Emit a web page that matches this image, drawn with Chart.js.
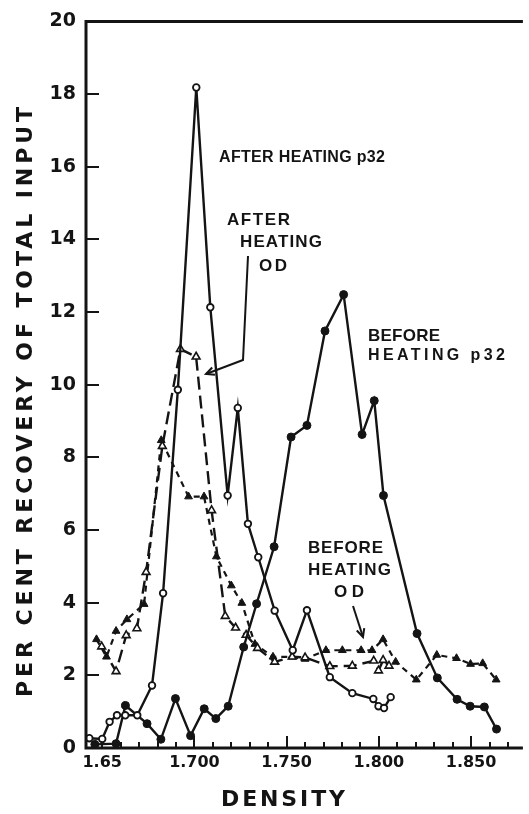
<!DOCTYPE html>
<html>
<head>
<meta charset="utf-8">
<script src="https://cdn.jsdelivr.net/npm/chart.js@4/dist/chart.umd.min.js"></script>
<style>
  html, body { margin: 0; padding: 0; background: #fff; }
  #chart { display: block; }
</style>
</head>
<body>
<canvas id="chart" width="529" height="814"></canvas>
<script>
// Values (density, per cent recovery).
var afterP32Density = [1.643, 1.650, 1.654, 1.658, 1.6625, 1.669, 1.677, 1.683, 1.691, 1.701, 1.7086, 1.718, 1.7235, 1.729, 1.7346, 1.7435, 1.7533, 1.761, 1.7734, 1.7856, 1.797, 1.7998, 1.8028, 1.8064];
var afterP32Values = [0.27, 0.25, 0.72, 0.9, 0.9, 0.9, 1.72, 4.26, 9.86, 18.18, 12.13, 6.95, 9.36, 6.17, 5.25, 3.78, 2.69, 3.79, 1.95, 1.51, 1.35, 1.15, 1.10, 1.40];

var beforeP32Density = [1.646, 1.6575, 1.6626, 1.6743, 1.6818, 1.6897, 1.6979, 1.7053, 1.7116, 1.7183, 1.7267, 1.7337, 1.7432, 1.7524, 1.761, 1.7708, 1.7809, 1.7909, 1.7975, 1.8025, 1.8207, 1.8317, 1.8424, 1.8495, 1.8572, 1.8638];
var beforeP32Values = [0.1, 0.12, 1.17, 0.67, 0.24, 1.36, 0.34, 1.08, 0.81, 1.15, 2.78, 3.97, 5.54, 8.56, 8.88, 11.48, 12.48, 8.63, 9.56, 6.95, 3.15, 1.93, 1.34, 1.15, 1.13, 0.52];

var afterODDensity = [1.6497, 1.6575, 1.663, 1.6688, 1.6738, 1.6826, 1.6924, 1.7009, 1.7093, 1.7167, 1.7223, 1.728, 1.7342, 1.7435, 1.753, 1.76, 1.7734, 1.7856, 1.7972, 1.7998, 1.8023, 1.8055];
var afterODValues = [2.79, 2.11, 3.10, 3.29, 4.84, 8.31, 10.98, 10.77, 6.54, 3.63, 3.31, 3.11, 2.75, 2.37, 2.51, 2.49, 2.25, 2.26, 2.40, 2.13, 2.42, 2.26];

var beforeODDensity = [1.6469, 1.6523, 1.6575, 1.6634, 1.6727, 1.682, 1.6968, 1.7052, 1.7119, 1.72, 1.7257, 1.7328, 1.7426, 1.753, 1.76, 1.7713, 1.7802, 1.7904, 1.7963, 1.8023, 1.8091, 1.8203, 1.8314, 1.8421, 1.8497, 1.8563, 1.8636];
var beforeODValues = [2.99, 2.51, 3.22, 3.54, 3.96, 8.47, 6.92, 6.92, 5.27, 4.47, 3.99, 2.86, 2.51, 2.51, 2.45, 2.69, 2.69, 2.69, 2.69, 2.99, 2.37, 1.88, 2.56, 2.47, 2.31, 2.33, 1.88];

var xTickValues = [1.65, 1.70, 1.75, 1.80, 1.85];
var xTickLabels = ['1.65', '1.700', '1.750', '1.800', '1.850'];
var xMinorTicks = [1.65, 1.66, 1.67, 1.68, 1.69, 1.70, 1.71, 1.72, 1.73, 1.74, 1.75, 1.76, 1.77, 1.78, 1.79, 1.80, 1.81, 1.82, 1.83, 1.84, 1.85, 1.86, 1.87];
var yTickValues = [0, 2, 4, 6, 8, 10, 12, 14, 16, 18, 20];

var INK = '#141414';
var FONT = '"DejaVu Sans", sans-serif';
var LABEL_FONT = '"Liberation Sans", Arial, sans-serif';

function points(xs, ys) {
  return xs.map(function (x, i) { return { x: x, y: ys[i] }; });
}

// Draw text spread to a given width by letter spacing.
function fitText(ctx, text, x, y, width, align) {
  ctx.letterSpacing = '0px';
  var w = ctx.measureText(text).width;
  var sp = (width - w) / Math.max(text.length - 1, 1);
  ctx.letterSpacing = sp + 'px';
  var start = align === 'center' ? x - width / 2 : x;
  ctx.textAlign = 'left';
  ctx.fillText(text, start, y);
  ctx.letterSpacing = '0px';
}

function arrowHead(ctx, x0, y0, x1, y1, size) {
  var a = Math.atan2(y1 - y0, x1 - x0);
  ctx.beginPath();
  ctx.moveTo(x1 - size * Math.cos(a - 0.45), y1 - size * Math.sin(a - 0.45));
  ctx.lineTo(x1, y1);
  ctx.lineTo(x1 - size * Math.cos(a + 0.45), y1 - size * Math.sin(a + 0.45));
  ctx.stroke();
}

var framePlugin = {
  id: 'frame',
  afterDraw: function (chart) {
    var ctx = chart.ctx;
    var area = chart.chartArea;
    var xs = chart.scales.x;
    var ys = chart.scales.y;

    ctx.save();
    ctx.strokeStyle = INK;
    ctx.fillStyle = INK;
    ctx.lineCap = 'butt';

    // Axes and top border.
    ctx.lineWidth = 3;
    ctx.beginPath();
    ctx.moveTo(area.right, area.top);
    ctx.lineTo(area.left, area.top);
    ctx.lineTo(area.left, area.bottom);
    ctx.lineTo(area.right, area.bottom);
    ctx.stroke();

    // Inward tick marks.
    ctx.lineWidth = 2;
    ctx.beginPath();
    yTickValues.forEach(function (v) {
      if (v === 0 || v === 20) return;
      var py = Math.round(ys.getPixelForValue(v));
      ctx.moveTo(area.left, py);
      ctx.lineTo(area.left + 13, py);
    });
    xMinorTicks.forEach(function (v) {
      var px = Math.round(xs.getPixelForValue(v));
      var major = Math.abs(Math.round(v * 100) % 5) === 0 && Math.round(v * 100) !== 165;
      ctx.moveTo(px, area.bottom);
      ctx.lineTo(px, area.bottom - (major ? 12 : 6));
    });
    ctx.stroke();

    // Axis titles.
    ctx.textBaseline = 'middle';
    ctx.font = 'bold 22px ' + FONT;
    fitText(ctx, 'DENSITY', 283, 800, 124, 'center');

    ctx.save();
    ctx.translate(26, 402);
    ctx.rotate(-Math.PI / 2);
    ctx.font = 'bold 22px ' + FONT;
    fitText(ctx, 'PER CENT RECOVERY OF TOTAL INPUT', 0, 0, 590, 'center');
    ctx.restore();

    // Curve labels.
    ctx.font = 'bold 16px ' + LABEL_FONT;
    fitText(ctx, 'AFTER HEATING p32', 219, 158, 166, 'left');
    ctx.font = 'bold 17px ' + LABEL_FONT;
    fitText(ctx, 'AFTER', 227, 220, 63, 'left');
    fitText(ctx, 'HEATING', 240, 242, 82, 'left');
    fitText(ctx, 'OD', 259, 266, 28, 'left');
    fitText(ctx, 'BEFORE', 368, 336, 72, 'left');
    ctx.font = 'bold 16px ' + LABEL_FONT;
    fitText(ctx, 'HEATING p32', 368, 356, 137, 'left');
    ctx.font = 'bold 17px ' + LABEL_FONT;
    fitText(ctx, 'BEFORE', 308, 548, 75, 'left');
    fitText(ctx, 'HEATING', 308, 570, 83, 'left');
    fitText(ctx, 'OD', 334, 592, 30, 'left');

    // Leader lines.
    ctx.lineWidth = 2;
    ctx.beginPath();
    ctx.moveTo(248, 256);
    ctx.lineTo(243, 360);
    ctx.lineTo(206, 374);
    ctx.stroke();
    arrowHead(ctx, 243, 360, 206, 374, 9);

    ctx.beginPath();
    ctx.moveTo(353, 606);
    ctx.lineTo(363, 637);
    ctx.stroke();
    arrowHead(ctx, 353, 606, 363, 637, 9);

    ctx.restore();
  }
};

new Chart(document.getElementById('chart'), {
  type: 'line',
  plugins: [framePlugin],
  data: {
    datasets: [
      {
        label: 'After heating p32',
        data: points(afterP32Density, afterP32Values),
        borderColor: INK,
        borderWidth: 2.4,
        pointStyle: 'circle',
        pointRadius: 3.3,
        pointBorderWidth: 1.8,
        pointBackgroundColor: '#fff',
        pointBorderColor: INK,
        tension: 0
      },
      {
        label: 'Before heating p32',
        data: points(beforeP32Density, beforeP32Values),
        borderColor: INK,
        borderWidth: 2.4,
        pointStyle: 'circle',
        pointRadius: 4,
        pointBorderWidth: 1,
        pointBackgroundColor: INK,
        pointBorderColor: INK,
        tension: 0
      },
      {
        label: 'After heating OD',
        data: points(afterODDensity, afterODValues),
        borderColor: INK,
        borderWidth: 2.4,
        borderDash: [13, 6],
        pointStyle: 'triangle',
        pointRadius: 4.5,
        pointBorderWidth: 1.6,
        pointBackgroundColor: '#fff',
        pointBorderColor: INK,
        tension: 0
      },
      {
        label: 'Before heating OD',
        data: points(beforeODDensity, beforeODValues),
        borderColor: INK,
        borderWidth: 2.2,
        borderDash: [6, 5],
        pointStyle: 'triangle',
        pointRadius: 4.5,
        pointBorderWidth: 1,
        pointBackgroundColor: INK,
        pointBorderColor: INK,
        tension: 0
      }
    ]
  },
  options: {
    responsive: false,
    animation: false,
    layout: { padding: { top: 15, right: 0, left: 0, bottom: 0 } },
    plugins: {
      legend: { display: false },
      tooltip: { enabled: false }
    },
    scales: {
      x: {
        type: 'linear',
        min: 1.6412,
        max: 1.8781,
        grid: { display: false, drawTicks: false },
        border: { display: false },
        afterFit: function (scale) { scale.height = 66; },
        afterBuildTicks: function (scale) {
          scale.ticks = xTickValues.map(function (v) { return { value: v }; });
        },
        ticks: {
          autoSkip: false,
          maxRotation: 0,
          padding: 5,
          color: INK,
          font: { family: 'DejaVu Sans', size: 16, weight: 'bold' },
          callback: function (value, index) { return xTickLabels[index]; }
        }
      },
      y: {
        type: 'linear',
        min: 0,
        max: 20,
        grid: { display: false, drawTicks: false },
        border: { display: false },
        afterFit: function (scale) { scale.width = 86; },
        afterBuildTicks: function (scale) {
          scale.ticks = yTickValues.map(function (v) { return { value: v }; });
        },
        ticks: {
          padding: 10,
          color: INK,
          font: { family: 'DejaVu Sans', size: 19, weight: 'bold' }
        }
      }
    }
  }
});
</script>
</body>
</html>
